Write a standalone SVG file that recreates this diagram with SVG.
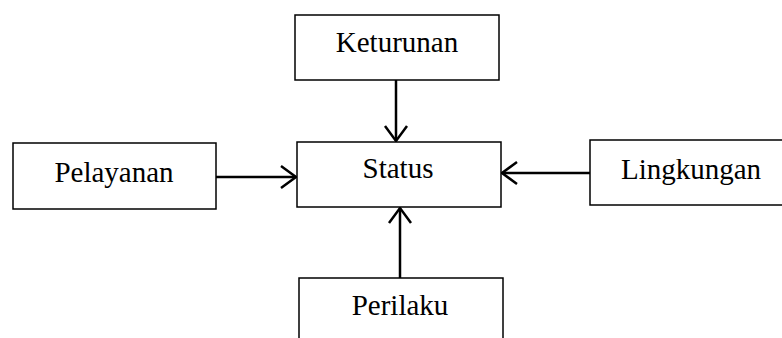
<svg xmlns="http://www.w3.org/2000/svg" width="782" height="338" viewBox="0 0 782 338">
<style>
.box{fill:#fff;stroke:#000;stroke-width:1.5}
.lbl{font-family:"Liberation Serif","Times New Roman",serif;font-size:29px;fill:#000;text-anchor:middle}
.conn{stroke:#000;stroke-width:2.5;fill:none;marker-end:url(#arr)}
</style>
<defs>
<marker id="arr" markerUnits="userSpaceOnUse" markerWidth="20" markerHeight="26" viewBox="0 0 20 26" refX="17" refY="13" orient="auto">
<path d="M2,2 L17,13 L2,24" fill="none" stroke="#000" stroke-width="2.5"/>
</marker>
</defs>
<rect width="782" height="338" fill="#fff"/>
<g id="connectors">
<line class="conn" x1="396" y1="80" x2="396" y2="141"/>
<line class="conn" x1="216" y1="177" x2="296" y2="177"/>
<line class="conn" x1="590" y1="173" x2="502" y2="173"/>
<line class="conn" x1="400" y1="278" x2="400" y2="208"/>
</g>
<g id="keturunan">
<rect class="box" x="295" y="15" width="204" height="65"/>
<text class="lbl" x="397" y="52">Keturunan</text>
</g>
<g id="status">
<rect class="box" x="297" y="142" width="204" height="65"/>
<text class="lbl" x="398" y="178">Status</text>
</g>
<g id="pelayanan">
<rect class="box" x="13" y="143" width="203" height="66"/>
<text class="lbl" x="114" y="182">Pelayanan</text>
</g>
<g id="lingkungan">
<rect class="box" x="590" y="140" width="205" height="65"/>
<text class="lbl" x="691" y="179">Lingkungan</text>
</g>
<g id="perilaku">
<rect class="box" x="299" y="278" width="204" height="70"/>
<text class="lbl" x="400" y="315">Perilaku</text>
</g>
</svg>
